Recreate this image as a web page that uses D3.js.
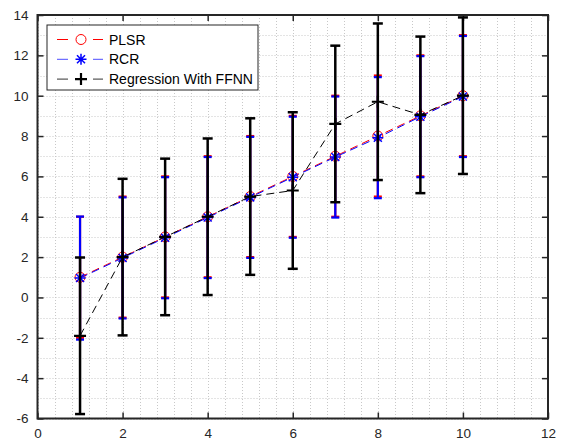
<!DOCTYPE html>
<html>
<head>
<meta charset="utf-8">
<script src="https://cdn.jsdelivr.net/npm/d3@7"></script>
<style>
  body { margin: 0; background: #fff; }
  svg text { font-family: Arial, "Liberation Sans", Helvetica, sans-serif; }
</style>
</head>
<body>
<svg id="chart"></svg>
<script>
// data
var xs = [1, 2, 3, 4, 5, 6, 7, 8, 9, 10];
var plsr = [1, 2, 3, 4, 5, 6, 7, 8, 9, 10];
var plsrErr = [3, 3, 3, 3, 3, 3, 3, 3, 3, 3];
var rcr = [0.96, 1.96, 2.96, 3.96, 4.96, 5.96, 6.96, 7.92, 8.96, 9.96];
var rcrErr = [3.05, 3, 3, 3, 3, 3, 3, 3, 3, 3];
var ffnn = [-1.9, 2.0, 3.0, 4.0, 5.0, 5.3, 8.6, 9.7, 9.05, 10.0];
var ffnnErr = [3.88, 3.88, 3.88, 3.88, 3.88, 3.88, 3.88, 3.88, 3.88, 3.88];
var xTicks = [0, 2, 4, 6, 8, 10, 12];
var yTicks = [-6, -4, -2, 0, 2, 4, 6, 8, 10, 12, 14];
var legendNames = ["PLSR", "RCR", "Regression With FFNN"];

var W = 562, H = 444;
// plot box (named so as not to clash with window.top)
var box = {left: 37.5, right: 548, top: 15, bottom: 418.5};
var axisColor = "#262626";

var svg = d3.select("#chart").attr("width", W).attr("height", H);

var x = d3.scaleLinear().domain([0, 12]).range([box.left, box.right]);
var y = d3.scaleLinear().domain([-6, 14]).range([box.bottom, box.top]);

// grid (major + minor, dotted)
var gx = d3.range(0, 12.001, 0.4);
var gy = d3.range(-6, 14.001, 1);
var grid = svg.append("g").attr("stroke", "#c8c8c8").attr("stroke-width", 1)
  .attr("stroke-dasharray", "1,2");
grid.selectAll(".vx").data(gx).enter().append("line")
  .attr("x1", function(d) { return Math.round(x(d)) + 0.5; })
  .attr("x2", function(d) { return Math.round(x(d)) + 0.5; })
  .attr("y1", box.top).attr("y2", box.bottom);
grid.selectAll(".hy").data(gy).enter().append("line")
  .attr("y1", function(d) { return Math.round(y(d)) + 0.5; })
  .attr("y2", function(d) { return Math.round(y(d)) + 0.5; })
  .attr("x1", box.left).attr("x2", box.right);

// axes with inward ticks on all four sides
var fmt = function(d) { return d; };
svg.append("g").attr("transform", "translate(0," + box.bottom + ")")
  .call(d3.axisBottom(x).tickValues(xTicks).tickSize(-6).tickPadding(10).tickFormat(fmt));
svg.append("g").attr("transform", "translate(0," + box.top + ")")
  .call(d3.axisTop(x).tickValues(xTicks).tickSize(-6).tickFormat(""));
svg.append("g").attr("transform", "translate(" + box.left + ",0)")
  .call(d3.axisLeft(y).tickValues(yTicks).tickSize(-6).tickPadding(9).tickFormat(fmt));
svg.append("g").attr("transform", "translate(" + box.right + ",0)")
  .call(d3.axisRight(y).tickValues(yTicks).tickSize(-6).tickFormat(""));

svg.selectAll(".domain").remove();
svg.selectAll(".tick line").attr("stroke", axisColor).attr("stroke-width", 1.5);
svg.selectAll(".tick text").attr("fill", axisColor).attr("font-size", 13.5);

svg.append("rect")
  .attr("x", box.left).attr("y", box.top)
  .attr("width", box.right - box.left).attr("height", box.bottom - box.top)
  .attr("fill", "none").attr("stroke", axisColor).attr("stroke-width", 2);

// series
var series = [
  {vals: plsr, err: plsrErr, color: "#ff0000", marker: "circle", barW: 2.2, cap: 4},
  {vals: rcr, err: rcrErr, color: "#0000ff", marker: "star", barW: 2.2, cap: 4},
  {vals: ffnn, err: ffnnErr, color: "#000000", marker: "plus", barW: 2.5, cap: 5}
];

function drawMarker(g, type, color) {
  if (type === "circle") {
    g.append("circle").attr("r", 5).attr("fill", "none")
      .attr("stroke", color).attr("stroke-width", 1);
  } else if (type === "star") {
    var s = 5.5, t = 4;
    var p = "M" + (-s) + ",0L" + s + ",0M0," + (-s) + "L0," + s +
      "M" + (-t) + "," + (-t) + "L" + t + "," + t + "M" + (-t) + "," + t + "L" + t + "," + (-t);
    g.append("path").attr("d", p).attr("stroke", color).attr("stroke-width", 1.5).attr("fill", "none");
  } else {
    var s2 = 6;
    g.append("path").attr("d", "M" + (-s2) + ",0L" + s2 + ",0M0," + (-s2) + "L0," + s2)
      .attr("stroke", color).attr("stroke-width", 2.2).attr("fill", "none");
  }
}

var line = d3.line()
  .x(function(d, i) { return x(xs[i]); })
  .y(function(d) { return y(d); });

series.forEach(function(s) {
  var g = svg.append("g");
  var pts = s.vals.map(function(v, i) { return {x: xs[i], v: v, e: s.err[i]}; });

  g.append("path")
    .attr("d", line(s.vals))
    .attr("fill", "none")
    .attr("stroke", s.color)
    .attr("stroke-width", 1)
    .attr("stroke-dasharray", "8,5");

  var eb = g.selectAll(".eb").data(pts).enter().append("g");
  eb.append("line")
    .attr("x1", function(d) { return x(d.x); })
    .attr("x2", function(d) { return x(d.x); })
    .attr("y1", function(d) { return y(d.v - d.e); })
    .attr("y2", function(d) { return y(d.v + d.e); })
    .attr("stroke", s.color).attr("stroke-width", s.barW);
  [-1, 1].forEach(function(sign) {
    eb.append("line")
      .attr("x1", function(d) { return x(d.x) - s.cap; })
      .attr("x2", function(d) { return x(d.x) + s.cap; })
      .attr("y1", function(d) { return y(d.v + sign * d.e); })
      .attr("y2", function(d) { return y(d.v + sign * d.e); })
      .attr("stroke", s.color).attr("stroke-width", s.barW);
  });

  g.selectAll(".mk").data(pts).enter().append("g")
    .attr("transform", function(d) { return "translate(" + x(d.x) + "," + y(d.v) + ")"; })
    .each(function() { drawMarker(d3.select(this), s.marker, s.color); });
});

// legend
var lg = svg.append("g").attr("transform", "translate(47,25)");
lg.append("rect").attr("width", 211).attr("height", 65)
  .attr("fill", "#fff").attr("stroke", "#262626").attr("stroke-width", 1);
var lineColors = ["#ff0000", "#4d4dff", "#333333"];
legendNames.forEach(function(name, i) {
  var row = lg.append("g").attr("transform", "translate(0," + (14.5 + i * 19.8) + ")");
  row.append("line").attr("x1", 10).attr("x2", 21).attr("stroke", lineColors[i]).attr("stroke-width", 1);
  row.append("line").attr("x1", 46).attr("x2", 56).attr("stroke", lineColors[i]).attr("stroke-width", 1);
  drawMarker(row.append("g").attr("transform", "translate(34,0)"), series[i].marker, series[i].color);
  row.append("text").attr("x", 62).attr("y", 5).attr("font-size", 14)
    .attr("fill", "#000").text(name);
});
</script>
</body>
</html>
